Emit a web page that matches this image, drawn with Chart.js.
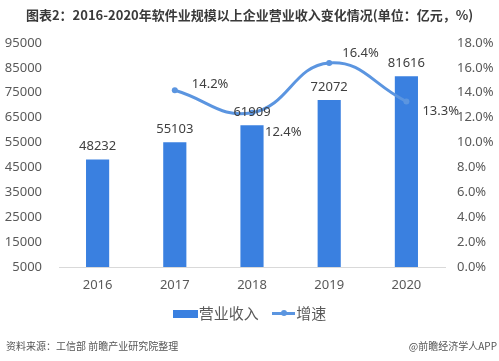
<!DOCTYPE html>
<html>
<head>
<meta charset="utf-8">
<script src="https://cdn.jsdelivr.net/npm/chart.js@4"></script>
<style>
  html, body { margin: 0; padding: 0; background: #fff; }
  #wrap { position: relative; width: 499px; height: 361px; overflow: hidden; font-family: "Noto Sans", "Noto Sans CJK SC", sans-serif; }
  #title { position: absolute; left: 0; width: 499px; top: 5px; text-align: center; font-family: "Noto Sans CJK SC", sans-serif; font-weight: bold; font-size: 13px; color: #3a3a3a; line-height: 20px; }
  #legend { position: absolute; left: 0; width: 499px; top: 302px; text-align: center; font-family: "Noto Sans CJK SC", sans-serif; font-size: 15px; color: #595959; line-height: 22px; }
  .item { display: inline-block; margin: 0 5px; }
  .box { display: inline-block; width: 25px; height: 8px; background: #3a80e0; vertical-align: middle; margin-right: 1px; position: relative; top: -1px; }
  .ln { display: inline-block; width: 23px; height: 3px; background: #5b95e0; vertical-align: middle; position: relative; top: -1px; margin-right: 1px; }
  .ln i { position: absolute; left: 9px; top: -2px; width: 6px; height: 6px; border-radius: 50%; background: #5b95e0; }
  .foot { position: absolute; top: 338px; font-family: "Noto Sans CJK SC", sans-serif; font-size: 10px; color: #555; line-height: 16px; }
  canvas { position: absolute; left: 0; top: 0; }
</style>
</head>
<body>
<div id="wrap">
  <canvas id="myChart" width="499" height="361"></canvas>
  <div id="title">图表2：2016-2020年软件业规模以上企业营业收入变化情况(单位：亿元，%)</div>
  <div id="legend">
    <span class="item"><span class="box"></span>营业收入</span>
    <span class="item"><span class="ln"><i></i></span>增速</span>
  </div>
  <div class="foot" style="left:6px;">资料来源：工信部 前瞻产业研究院整理</div>
  <div class="foot" style="right:2px;">@前瞻经济学人APP</div>
</div>
<script>
// 数据
var years = ["2016", "2017", "2018", "2019", "2020"];
var revenue = [48232, 55103, 61909, 72072, 81616];   // 营业收入(亿元)
var growth = [null, 14.2, 12.4, 16.4, 13.3];          // 增速(%)
var leftMin = 5000, leftMax = 95000, leftStep = 10000;
var rightMin = 0, rightMax = 18, rightStep = 2;

var barColor = "#3a80e0";
var lineColor = "#5b95e0";
var tickFont = { family: "'Noto Sans', 'Noto Sans CJK SC', sans-serif", size: 13 };

// 折线标签的位置 (相对点)
var lineLabelOffset = [[0, 0], [17, -6], [13, 20], [13, -10], [16, 10]];

var valueLabels = {
    id: "valueLabels",
    afterDatasetsDraw: function(chart) {
        var ctx = chart.ctx;
        ctx.save();
        ctx.font = "13px 'Noto Sans', sans-serif";
        ctx.fillStyle = "#404040";
        ctx.textBaseline = "middle";
        // 柱子 (dataset 1)
        ctx.textAlign = "center";
        chart.getDatasetMeta(1).data.forEach(function(bar, i) {
            ctx.fillText(revenue[i], bar.x, bar.y - 13);
        });
        // 折线 (dataset 0)
        ctx.textAlign = "left";
        chart.getDatasetMeta(0).data.forEach(function(pt, i) {
            if (growth[i] == null) return;
            ctx.fillText(growth[i].toFixed(1) + "%", pt.x + lineLabelOffset[i][0], pt.y + lineLabelOffset[i][1]);
        });
        ctx.restore();
    }
};

var ctx = document.getElementById("myChart");
var myChart = new Chart(ctx, {
    type: "bar",
    data: {
        labels: years,
        datasets: [{
            type: "line",
            label: "增速",
            data: growth,
            yAxisID: "y1",
            borderColor: lineColor,
            backgroundColor: lineColor,
            borderWidth: 3,
            tension: 0.45,
            pointRadius: 3,
            pointBackgroundColor: lineColor,
            pointBorderWidth: 0,
            order: 0
        }, {
            label: "营业收入",
            data: revenue,
            yAxisID: "y",
            backgroundColor: barColor,
            barPercentage: 0.3,
            categoryPercentage: 1.0,
            order: 1
        }]
    },
    options: {
        responsive: false,
        animation: false,
        layout: { padding: { top: 43, bottom: 64, left: 0, right: 0 } },
        plugins: {
            legend: { display: false },
            title: { display: false },
            tooltip: { enabled: false }
        },
        scales: {
            x: {
                grid: { display: false, drawTicks: false },
                border: { display: true, color: "#d9d9d9", width: 1 },
                ticks: { color: "#595959", font: tickFont, padding: 10 },
                afterFit: function(scale) { scale.height = 30; }
            },
            y: {
                position: "left",
                min: leftMin, max: leftMax,
                grid: { display: false, drawTicks: false },
                border: { display: false },
                ticks: {
                    stepSize: leftStep, color: "#595959", font: tickFont, padding: 17,
                    callback: function(v) { return String(v); }
                },
                afterFit: function(scale) { scale.width = 59; }
            },
            y1: {
                position: "right",
                min: rightMin, max: rightMax,
                grid: { display: false, drawTicks: false },
                border: { display: false },
                ticks: {
                    stepSize: rightStep, color: "#595959", font: tickFont, padding: 12,
                    callback: function(v) { return v.toFixed(1) + "%"; }
                },
                afterFit: function(scale) { scale.width = 54; }
            }
        }
    },
    plugins: [valueLabels]
});
</script>
</body>
</html>
